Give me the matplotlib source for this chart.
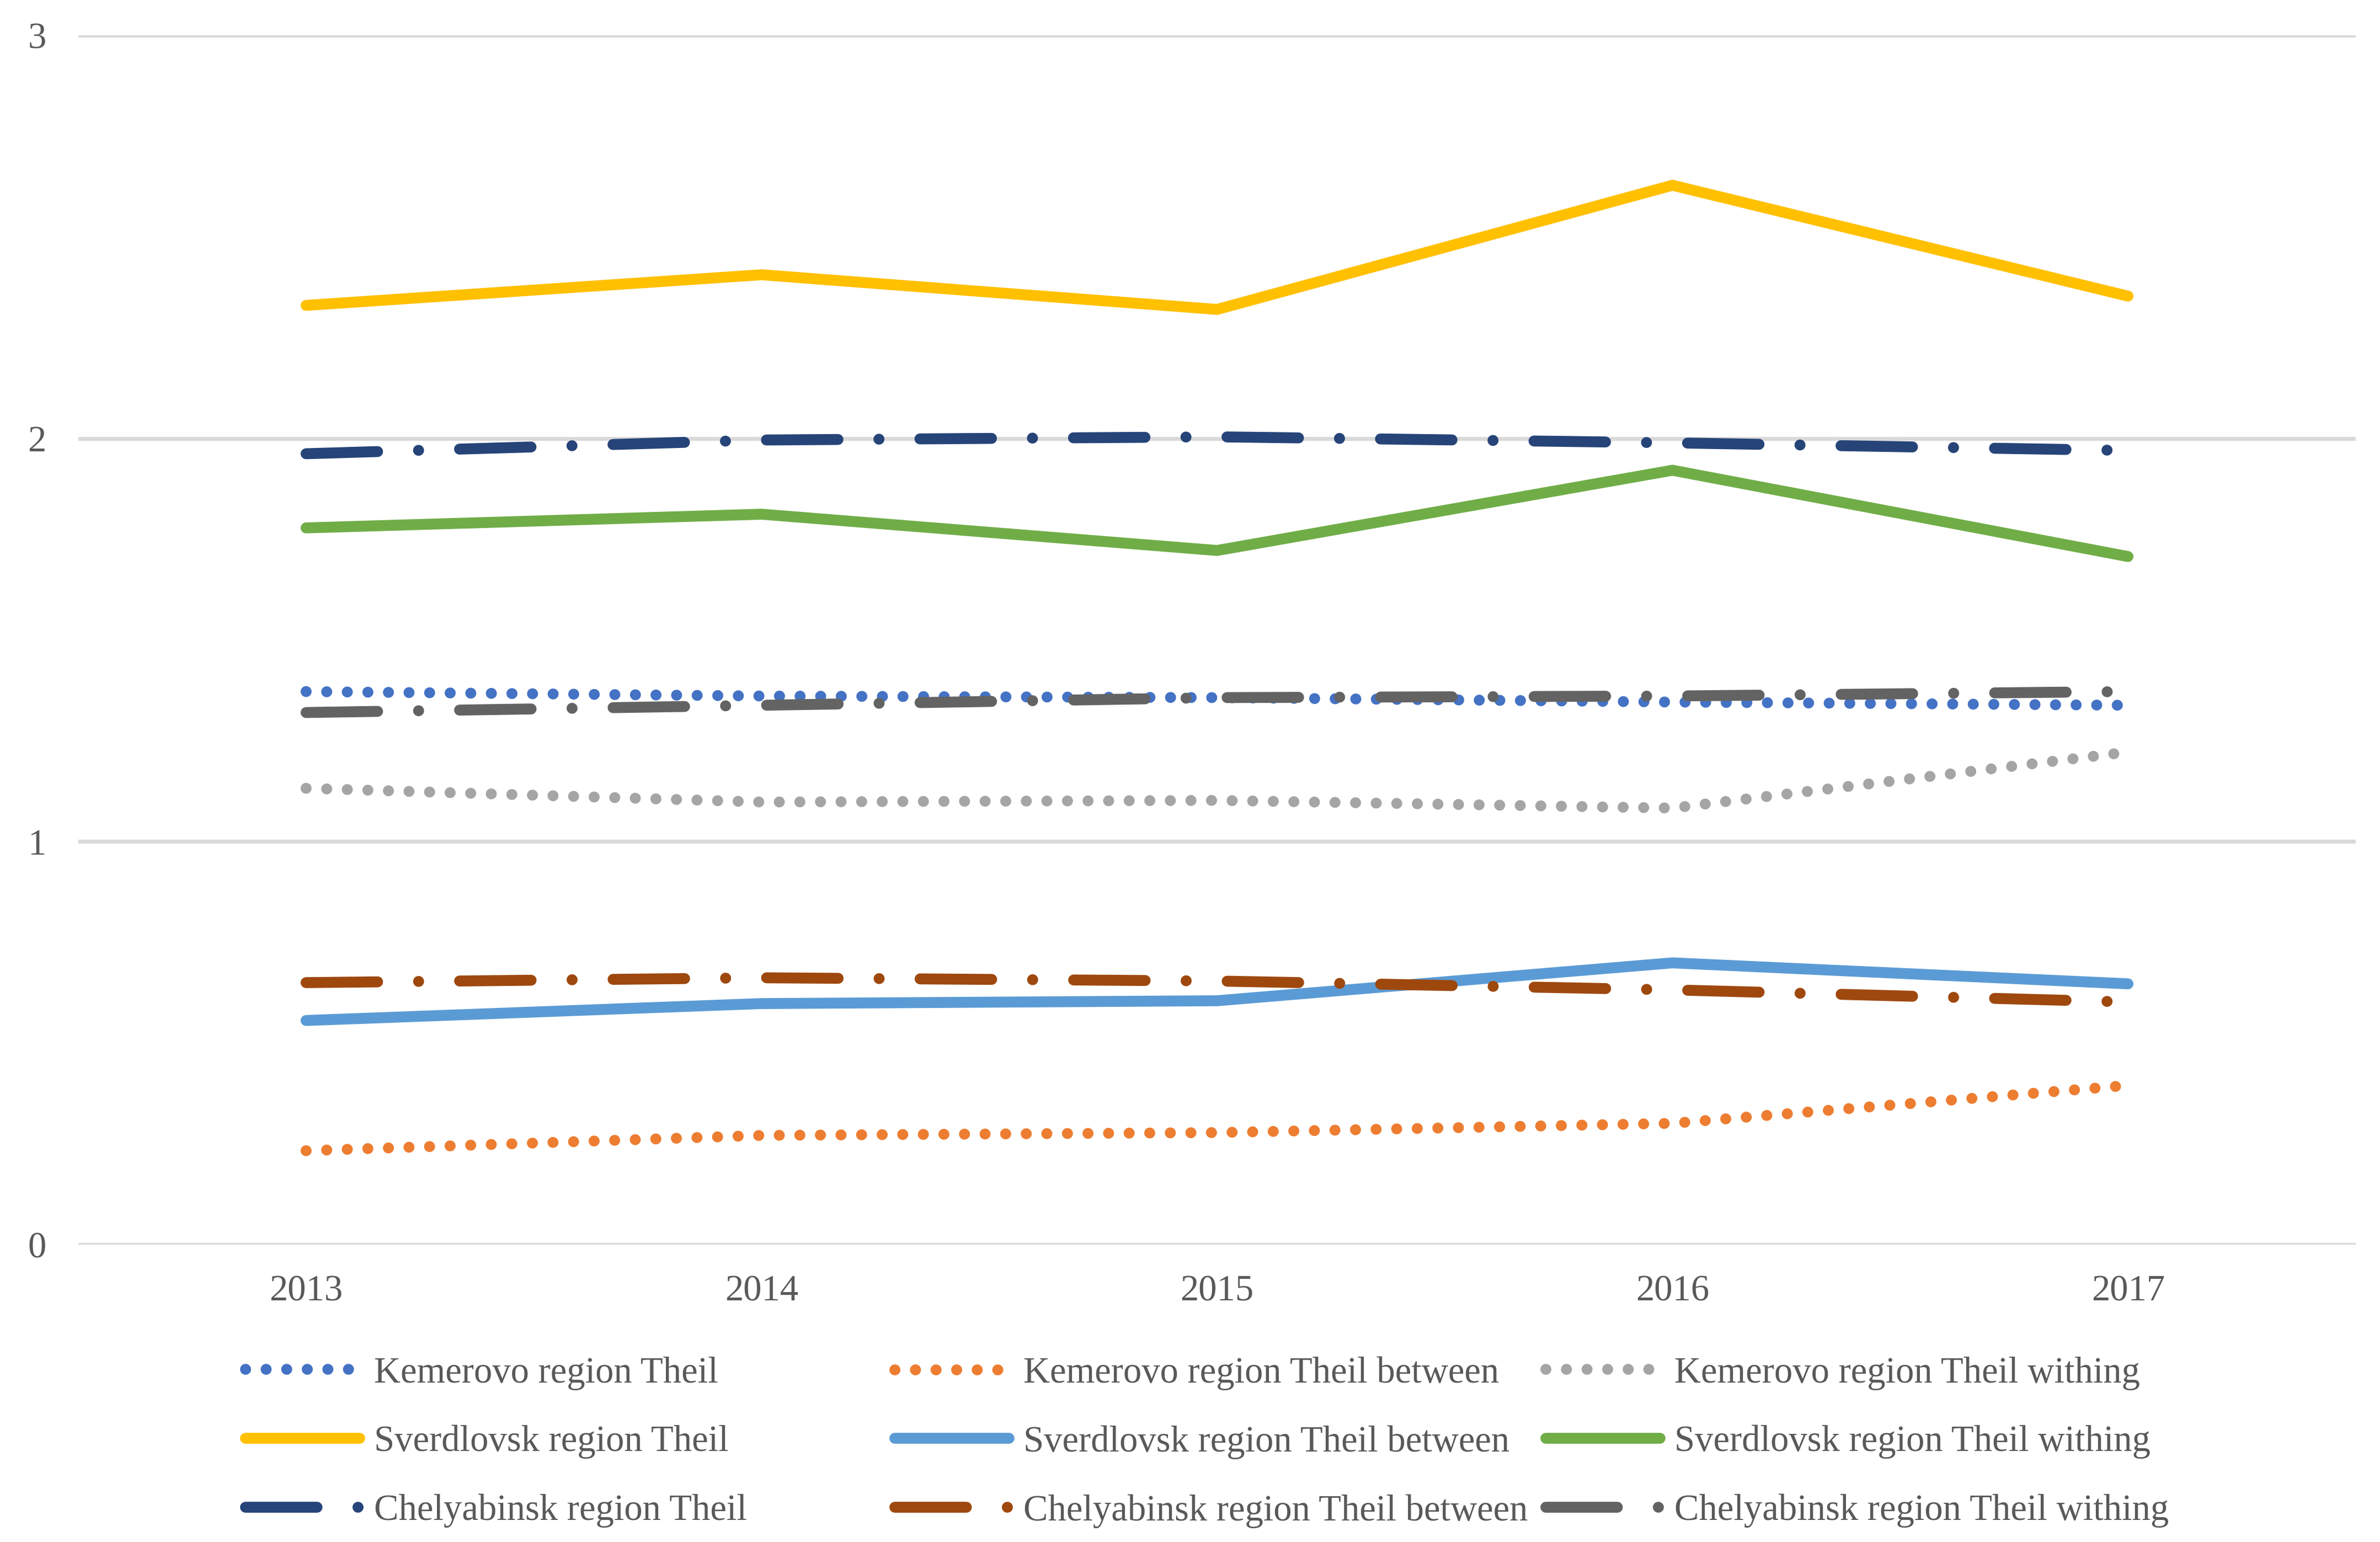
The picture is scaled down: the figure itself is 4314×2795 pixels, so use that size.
import matplotlib
matplotlib.use("Agg")
import matplotlib.pyplot as plt

plt.rcParams['font.family'] = ['Liberation Serif', 'DejaVu Serif']

years = [2013, 2014, 2015, 2016, 2017]

kem_theil = [1.372, 1.361, 1.357, 1.346, 1.338]
kem_between = [0.233, 0.271, 0.278, 0.301, 0.395]
kem_withing = [1.132, 1.098, 1.102, 1.083, 1.222]
sve_theil = [2.330, 2.406, 2.320, 2.628, 2.353]
sve_between = [0.556, 0.598, 0.605, 0.699, 0.647]
sve_withing = [1.778, 1.812, 1.722, 1.921, 1.707]
che_theil = [1.962, 1.996, 2.004, 1.989, 1.970]
che_between = [0.650, 0.662, 0.654, 0.632, 0.602]
che_withing = [1.320, 1.338, 1.357, 1.361, 1.372]

labels = ["Kemerovo region Theil", "Kemerovo region Theil between", "Kemerovo region Theil withing",
          "Sverdlovsk region Theil", "Sverdlovsk region Theil between", "Sverdlovsk region Theil withing",
          "Chelyabinsk region Theil", "Chelyabinsk region Theil between", "Chelyabinsk region Theil withing"]

DOT = (0, (0.01, 1.875))
DASHDOT = (0, (6.55, 3.75, 0.01, 3.75))
SOLID = '-'

series = [
    (kem_theil, '#4472C4', DOT),
    (kem_between, '#ED7D31', DOT),
    (kem_withing, '#A5A5A5', DOT),
    (sve_theil, '#FFC000', SOLID),
    (sve_between, '#5B9BD5', SOLID),
    (sve_withing, '#70AD47', SOLID),
    (che_theil, '#264478', DASHDOT),
    (che_between, '#9E480E', DASHDOT),
    (che_withing, '#636363', DASHDOT),
]

LW = 4.75
TXT = '#595959'
FS = 16

fig = plt.figure(figsize=(4314 / 300, 2795 / 300), dpi=300)
ax = fig.add_axes([142 / 4314, 1 - 2256 / 2795, (4270 - 142) / 4314, (2256 - 64) / 2795])

handles = []
for (vals, col, ls), lab in zip(series, labels):
    h, = ax.plot(years, vals, color=col, linestyle=ls, linewidth=LW,
                 dash_capstyle='round', solid_capstyle='round', solid_joinstyle='miter',
                 label=lab)
    handles.append(h)

ax.set_xlim(2012.5, 2017.5)
ax.set_ylim(0, 3)
ax.set_xticks(years)
ax.set_yticks([0, 1, 2, 3])
ax.grid(axis='y', color='#D9D9D9', linewidth=1.7)
ax.set_axisbelow(True)
for s in ax.spines.values():
    s.set_visible(False)
ax.tick_params(axis='both', length=0, labelsize=FS, labelcolor=TXT)
ax.tick_params(axis='y', pad=14)
ax.tick_params(axis='x', pad=13)

# legend: three columns of equal width, Excel style
col_x = [445 / 4314, 1622 / 4314, 2802 / 4314]
for i in range(3):
    hs = [handles[i], handles[i + 3], handles[i + 6]]
    fig.legend(handles=hs, loc='center left', bbox_to_anchor=(col_x[i], 1 - 2614 / 2795),
               frameon=False, fontsize=FS, handlelength=3.1, handletextpad=0.4,
               labelspacing=0.95, borderpad=0, borderaxespad=0, labelcolor=TXT)

fig.savefig('out.png', dpi=300, facecolor='white')
